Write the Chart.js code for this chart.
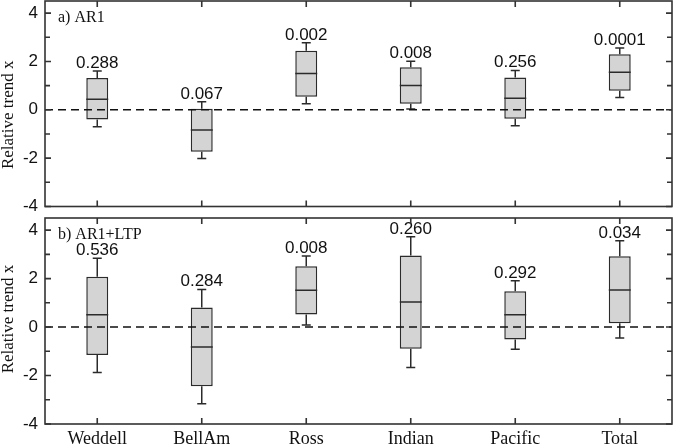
<!DOCTYPE html>
<html>
<head>
<meta charset="utf-8">
<script src="https://cdn.jsdelivr.net/npm/chart.js@4.4.1/dist/chart.umd.min.js"></script>
<style>
  html, body { margin: 0; padding: 0; background: #fff; }
  #wrap { position: relative; width: 675px; height: 445px; }
  .panel { position: absolute; left: 0; width: 675px; }
  #panel-a { top: 0; height: 215px; }
  #panel-b { top: 215px; height: 230px; }
</style>
</head>
<body>
<div id="wrap">
  <div class="panel" id="panel-a"><canvas id="chart-a"></canvas></div>
  <div class="panel" id="panel-b"><canvas id="chart-b"></canvas></div>
</div>
<script>
const categories = ["Weddell", "BellAm", "Ross", "Indian", "Pacific", "Total"];

// a) AR1
const arLow = [-0.70, -2.01, 0.25, 0.03, -0.66, 0.51];
const arQ1 = [-0.40, -1.74, 0.54, 0.25, -0.37, 0.79];
const arMedian = [0.44, -0.84, 1.50, 1.01, 0.48, 1.55];
const arQ3 = [1.31, 0.04, 2.44, 1.76, 1.34, 2.30];
const arHigh = [1.60, 0.33, 2.77, 2.01, 1.63, 2.56];
const arPValues = ["0.288", "0.067", "0.002", "0.008", "0.256", "0.0001"];

// b) AR1+LTP
const ltpLow = [-1.87, -3.16, 0.09, -1.67, -0.92, -0.45];
const ltpQ1 = [-1.15, -2.44, 0.52, -0.89, -0.51, 0.16];
const ltpMedian = [0.51, -0.82, 1.52, 1.03, 0.51, 1.53];
const ltpQ3 = [2.08, 0.81, 2.51, 2.95, 1.48, 2.92];
const ltpHigh = [2.84, 1.55, 2.93, 3.73, 1.91, 3.56];
const ltpPValues = ["0.536", "0.284", "0.008", "0.260", "0.292", "0.034"];

const yMin = -4;
const yMax = 4.5;
const yLabelTicks = [-4, -2, 0, 2, 4];
const yTitle = "Relative trend x";

const INK = "#2b2b2b";
const SANS = "'Liberation Sans', Arial, sans-serif";
const SERIF = "'Liberation Serif', 'Times New Roman', serif";

// whiskers, medians, p-values, dashed zero line and titles
const boxExtras = {
  id: "boxExtras",
  afterDatasetsDraw(chart, args, opts) {
    const ctx = chart.ctx;
    const y = chart.scales.y;
    const meta = chart.getDatasetMeta(0);
    const area = chart.chartArea;

    ctx.save();
    ctx.strokeStyle = INK;
    ctx.lineWidth = 1.5;
    meta.data.forEach((bar, i) => {
      const x = bar.x;
      const half = bar.width / 2;
      const cap = 4.5;
      const pHigh = y.getPixelForValue(opts.high[i]);
      const pLow = y.getPixelForValue(opts.low[i]);
      const pQ1 = y.getPixelForValue(opts.q1[i]);
      const pQ3 = y.getPixelForValue(opts.q3[i]);
      const pMed = y.getPixelForValue(opts.median[i]);

      ctx.beginPath();
      ctx.moveTo(x, pQ3);
      ctx.lineTo(x, pHigh);
      ctx.moveTo(x - cap, pHigh);
      ctx.lineTo(x + cap, pHigh);
      ctx.moveTo(x, pQ1);
      ctx.lineTo(x, pLow);
      ctx.moveTo(x - cap, pLow);
      ctx.lineTo(x + cap, pLow);
      ctx.moveTo(x - half, pMed);
      ctx.lineTo(x + half, pMed);
      ctx.stroke();

      ctx.fillStyle = "#111";
      ctx.font = "17px " + SANS;
      ctx.textAlign = "center";
      ctx.textBaseline = "alphabetic";
      ctx.fillText(opts.labels[i], x, pHigh - 3);
    });

    // dashed zero line
    const p0 = y.getPixelForValue(0);
    ctx.beginPath();
    ctx.setLineDash([8, 5]);
    ctx.lineWidth = 1.5;
    ctx.strokeStyle = "#111";
    ctx.moveTo(area.left, p0);
    ctx.lineTo(area.right, p0);
    ctx.stroke();
    ctx.setLineDash([]);

    // panel title
    ctx.fillStyle = "#111";
    ctx.font = "16px " + SERIF;
    ctx.textAlign = "left";
    ctx.textBaseline = "alphabetic";
    ctx.fillText(opts.title, area.left + 13, y.getPixelForValue(4) + 8.5);

    // y axis title
    ctx.font = "17px " + SERIF;
    ctx.textAlign = "center";
    ctx.textBaseline = "middle";
    ctx.translate(9, (area.top + area.bottom) / 2 + opts.titleShift);
    ctx.rotate(-Math.PI / 2);
    ctx.fillText(yTitle, 0, 0);
    ctx.restore();
  },
  afterDraw(chart) {
    // frame with inward ticks on all four sides
    const ctx = chart.ctx;
    const area = chart.chartArea;
    const y = chart.scales.y;
    const meta = chart.getDatasetMeta(0);
    ctx.save();
    ctx.strokeStyle = "#333";
    ctx.lineWidth = 1.6;
    ctx.strokeRect(area.left, area.top, area.right - area.left, area.bottom - area.top);
    ctx.beginPath();
    for (let v = -4; v <= 4; v++) {
      const py = y.getPixelForValue(v);
      const len = v % 2 === 0 ? 6 : 5;
      ctx.moveTo(area.left, py);
      ctx.lineTo(area.left + len, py);
      ctx.moveTo(area.right, py);
      ctx.lineTo(area.right - len, py);
    }
    meta.data.forEach((bar) => {
      ctx.moveTo(bar.x, area.top);
      ctx.lineTo(bar.x, area.top + 6);
      ctx.moveTo(bar.x, area.bottom);
      ctx.lineTo(bar.x, area.bottom - 6);
    });
    ctx.stroke();
    ctx.restore();
  },
};

function makePanel(canvasId, q1, q3, extras, showLabels, padding) {
  const boxes = q1.map((v, i) => [v, q3[i]]);
  return new Chart(document.getElementById(canvasId), {
    type: "bar",
    data: {
      labels: categories,
      datasets: [
        {
          data: boxes,
          backgroundColor: "#d4d4d4",
          borderColor: INK,
          borderWidth: 1.5,
          borderSkipped: false,
          categoryPercentage: 1,
          barPercentage: 0.21,
        },
      ],
    },
    options: {
      responsive: true,
      maintainAspectRatio: false,
      animation: false,
      layout: { padding },
      plugins: {
        legend: { display: false },
        tooltip: { enabled: false },
        boxExtras: extras,
      },
      scales: {
        x: {
          display: showLabels,
          offset: true,
          grid: { display: false, drawTicks: false },
          border: { display: false },
          ticks: {
            color: "#111",
            padding: 4,
            maxRotation: 0,
            font: { family: SERIF, size: 18 },
          },
          afterFit(scale) {
            scale.paddingLeft = 0;
            scale.paddingRight = 0;
            if (showLabels) scale.height = 21;
          },
        },
        y: {
          min: yMin,
          max: yMax,
          grid: { display: false, drawTicks: false },
          border: { display: false },
          ticks: {
            stepSize: 1,
            includeBounds: false,
            padding: 7,
            color: "#111",
            font: { family: SANS, size: 17 },
            callback: (v) => (yLabelTicks.includes(v) ? String(v) : ""),
          },
          afterFit(scale) {
            scale.width = 45;
            scale.paddingTop = 0;
            scale.paddingBottom = 0;
          },
        },
      },
    },
    plugins: [boxExtras],
  });
}

makePanel(
  "chart-a",
  arQ1,
  arQ3,
  { low: arLow, q1: arQ1, median: arMedian, q3: arQ3, high: arHigh, labels: arPValues, title: "a) AR1", titleShift: 11 },
  false,
  { top: 1, bottom: 8.5, left: 0, right: 3 }
);

makePanel(
  "chart-b",
  ltpQ1,
  ltpQ3,
  { low: ltpLow, q1: ltpQ1, median: ltpMedian, q3: ltpQ3, high: ltpHigh, labels: ltpPValues, title: "b) AR1+LTP", titleShift: -2 },
  true,
  { top: 3, bottom: 0, left: 0, right: 3 }
);
</script>
</body>
</html>
